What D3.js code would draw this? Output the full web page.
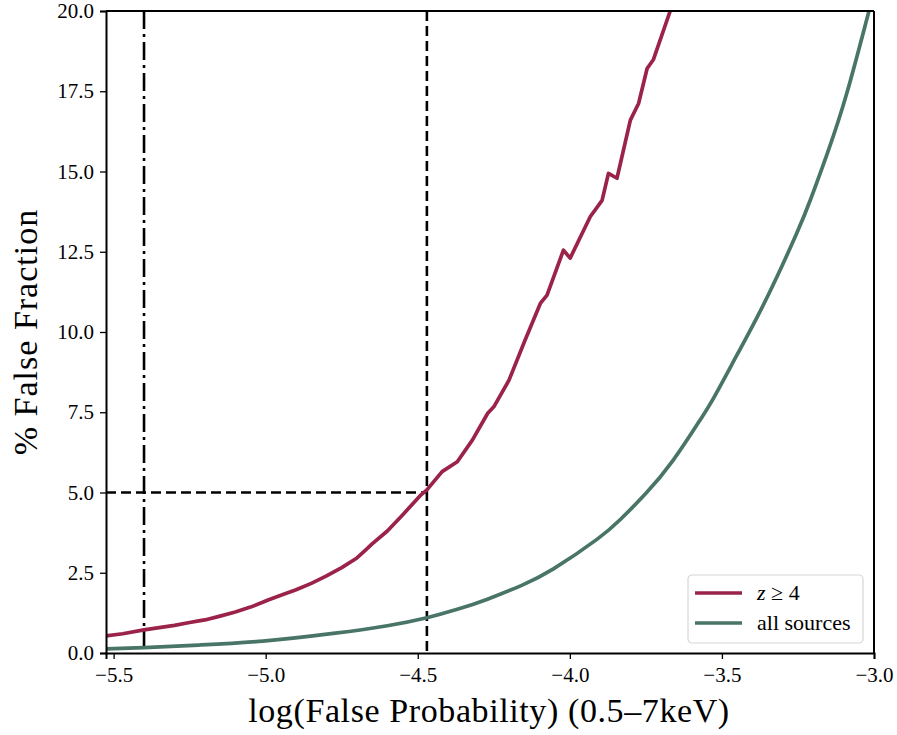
<!DOCTYPE html>
<html>
<head>
<meta charset="utf-8">
<script src="https://cdn.jsdelivr.net/npm/d3@7"></script>
<style>
  body { margin: 0; background: #fff; }
  text { font-family: "Liberation Serif", "DejaVu Serif", serif; fill: #000; }
</style>
</head>
<body>
<div id="vis"></div>
<script>
const FRAME_WIDTH = 897;
const FRAME_HEIGHT = 735;
const MARGINS = {left: 106, right: 23, top: 11, bottom: 82};
const VIS_WIDTH = FRAME_WIDTH - MARGINS.left - MARGINS.right;
const VIS_HEIGHT = FRAME_HEIGHT - MARGINS.top - MARGINS.bottom;

// z >= 4 curve (log false probability, % false fraction)
const HIGHZ_X = [-5.525, -5.47, -5.40, -5.35, -5.30, -5.25, -5.22, -5.20, -5.15, -5.10, -5.05, -5.01, -4.99,
                 -4.95, -4.90, -4.85, -4.80, -4.75, -4.70, -4.67, -4.65, -4.60, -4.55, -4.49, -4.47,
                 -4.42, -4.37, -4.32, -4.27, -4.25, -4.20, -4.147, -4.097, -4.075, -4.021, -3.999,
                 -3.933, -3.894, -3.873, -3.845, -3.801, -3.774, -3.746, -3.725, -3.67, -3.66];
const HIGHZ_Y = [0.53, 0.60, 0.72, 0.79, 0.86, 0.95, 1.00, 1.03, 1.15, 1.28, 1.43, 1.58, 1.66,
                 1.80, 1.97, 2.17, 2.40, 2.66, 2.96, 3.22, 3.40, 3.80, 4.30, 4.92, 5.08,
                 5.65, 5.96, 6.64, 7.47, 7.67, 8.50, 9.75, 10.89, 11.15, 12.55, 12.30,
                 13.59, 14.10, 14.94, 14.79, 16.60, 17.12, 18.21, 18.49, 20.0, 20.3];

// all sources curve
const ALL_X = [-5.525, -5.40, -5.216, -5.009, -4.778, -4.60, -4.47, -4.37, -4.273, -4.16, -4.054,
               -3.911, -3.834, -3.752, -3.66, -3.571, -3.527, -3.461, -3.385, -3.319, -3.253, -3.209,
               -3.154, -3.089, -3.017, -3.0];
const ALL_Y = [0.13, 0.17, 0.25, 0.37, 0.61, 0.85, 1.10, 1.36, 1.67, 2.10, 2.62,
               3.54, 4.16, 4.95, 6.01, 7.27, 7.95, 9.10, 10.45, 11.72, 13.10, 14.12,
               15.55, 17.45, 19.98, 20.5];

const X_TICKS = [-5.5, -5.0, -4.5, -4.0, -3.5, -3.0];
const Y_TICKS = [0, 2.5, 5, 7.5, 10, 12.5, 15, 17.5, 20];

const VLINE_DASHDOT = -5.40;
const VLINE_DASHED = -4.47;
const HLINE_DASHED = 5.0;

const COLOR_HIGHZ = "#9b2349";
const COLOR_ALL = "#497468";

const FRAME = d3.select("#vis")
                .append("svg")
                  .attr("width", FRAME_WIDTH)
                  .attr("height", FRAME_HEIGHT);

const X_SCALE = d3.scaleLinear()
                  .domain([-5.525, -3.0])
                  .range([0, VIS_WIDTH]);

const Y_SCALE = d3.scaleLinear()
                  .domain([0, 20])
                  .range([VIS_HEIGHT, 0]);

const G = FRAME.append("g")
               .attr("transform", "translate(" + MARGINS.left + "," + MARGINS.top + ")");

G.append("clipPath").attr("id", "clip")
  .append("rect")
    .attr("width", VIS_WIDTH)
    .attr("height", VIS_HEIGHT);

const plot = G.append("g").attr("clip-path", "url(#clip)");

const line = d3.line()
               .x((d) => { return X_SCALE(d[0]); })
               .y((d) => { return Y_SCALE(d[1]); });

const smoothLine = d3.line()
               .x((d) => { return X_SCALE(d[0]); })
               .y((d) => { return Y_SCALE(d[1]); })
               .curve(d3.curveNatural);

// reference lines
plot.append("line")
    .attr("x1", X_SCALE(VLINE_DASHDOT)).attr("x2", X_SCALE(VLINE_DASHDOT))
    .attr("y1", 0).attr("y2", VIS_HEIGHT)
    .attr("stroke", "#000").attr("stroke-width", 2.6)
    .attr("stroke-dasharray", "18,5,3,5");

plot.append("line")
    .attr("x1", X_SCALE(VLINE_DASHED)).attr("x2", X_SCALE(VLINE_DASHED))
    .attr("y1", 0).attr("y2", VIS_HEIGHT)
    .attr("stroke", "#000").attr("stroke-width", 2.6)
    .attr("stroke-dasharray", "10,5");

plot.append("line")
    .attr("x1", 0).attr("x2", X_SCALE(VLINE_DASHED))
    .attr("y1", Y_SCALE(HLINE_DASHED)).attr("y2", Y_SCALE(HLINE_DASHED))
    .attr("stroke", "#000").attr("stroke-width", 2.6)
    .attr("stroke-dasharray", "10,5");

// curves
plot.append("path")
    .datum(d3.zip(ALL_X, ALL_Y))
    .attr("d", smoothLine)
    .attr("fill", "none")
    .attr("stroke", COLOR_ALL)
    .attr("stroke-width", 3.7)
    .attr("stroke-linejoin", "round");

plot.append("path")
    .datum(d3.zip(HIGHZ_X, HIGHZ_Y))
    .attr("d", line)
    .attr("fill", "none")
    .attr("stroke", COLOR_HIGHZ)
    .attr("stroke-width", 3.7)
    .attr("stroke-linejoin", "round");

// axes
const fmtX = (d) => { return d3.format(".1f")(d).replace("-", "\u2212"); };

const xAxis = G.append("g")
    .attr("transform", "translate(0," + VIS_HEIGHT + ")")
    .call(d3.axisBottom(X_SCALE).tickValues(X_TICKS).tickFormat(fmtX).tickSize(6).tickPadding(8));

const yAxis = G.append("g")
    .call(d3.axisLeft(Y_SCALE).tickValues(Y_TICKS).tickFormat(d3.format(".1f")).tickSize(6).tickPadding(6));

// top and right spines
G.append("line").attr("x1", 0).attr("x2", VIS_WIDTH).attr("y1", 0).attr("y2", 0)
  .attr("stroke", "#000").attr("stroke-width", 2);
G.append("line").attr("x1", VIS_WIDTH).attr("x2", VIS_WIDTH).attr("y1", 0).attr("y2", VIS_HEIGHT)
  .attr("stroke", "#000").attr("stroke-width", 2);

[xAxis, yAxis].forEach((ax) => {
  ax.select(".domain").attr("stroke-width", 2);
  ax.selectAll(".tick line").attr("stroke-width", 1.3);
  ax.selectAll("text")
    .style("font-family", "'Liberation Serif', serif")
    .attr("font-size", "21px");
});

// axis labels
FRAME.append("text")
     .attr("x", 489)
     .attr("y", 722)
     .attr("text-anchor", "middle")
     .attr("font-size", "34px")
     .attr("letter-spacing", "0.6px")
     .text("log(False Probability) (0.5\u20137keV)");

FRAME.append("text")
     .attr("transform", "translate(37,332) rotate(-90)")
     .attr("text-anchor", "middle")
     .attr("font-size", "34px")
     .attr("letter-spacing", "1px")
     .text("% False Fraction");

// legend
const LEGEND = G.append("g")
                .attr("transform", "translate(" + (X_SCALE(-3.0) - 186) + "," + (VIS_HEIGHT - 78) + ")");

LEGEND.append("rect")
      .attr("width", 175).attr("height", 68)
      .attr("rx", 4)
      .attr("fill", "#fff").attr("fill-opacity", 0.8)
      .attr("stroke", "#d6d6d6").attr("stroke-width", 1.2);

const LEGEND_ITEMS = [
  {color: COLOR_HIGHZ, y: 18},
  {color: COLOR_ALL, y: 48}
];

LEGEND.selectAll(".lg-line")
      .data(LEGEND_ITEMS)
      .enter()
      .append("line")
        .attr("x1", 7).attr("x2", 54)
        .attr("y1", (d) => { return d.y; }).attr("y2", (d) => { return d.y; })
        .attr("stroke", (d) => { return d.color; })
        .attr("stroke-width", 3.7);

const t1 = LEGEND.append("text")
      .attr("x", 69).attr("y", 25)
      .attr("font-size", "22px");
t1.append("tspan").attr("font-style", "italic").text("z");
t1.append("tspan").text(" \u2265 4");

LEGEND.append("text")
      .attr("x", 69).attr("y", 55)
      .attr("font-size", "22px")
      .text("all sources");
</script>
</body>
</html>
